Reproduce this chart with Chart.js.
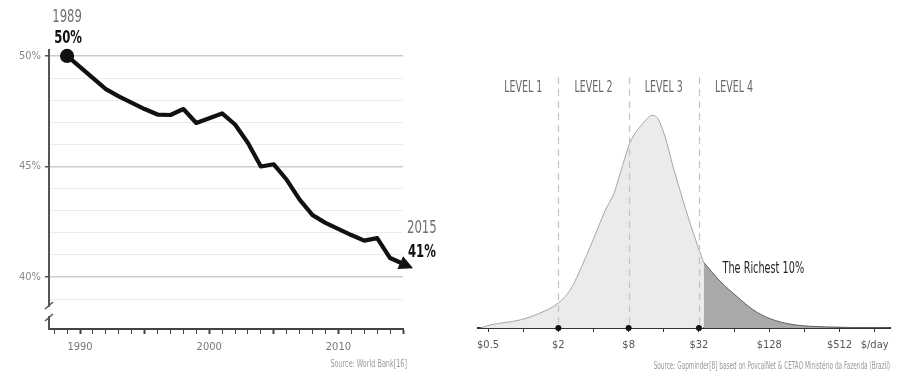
<!DOCTYPE html>
<html><head><meta charset="utf-8">
<script src="https://cdn.jsdelivr.net/npm/chart.js@4.4.1/dist/chart.umd.min.js"></script>
<style>
html,body{margin:0;padding:0;background:#fff;width:900px;height:390px;overflow:hidden}
#left{position:absolute;left:0;top:0;width:460px;height:390px}
#right{position:absolute;left:440px;top:0;width:460px;height:390px}
</style></head><body>
<div id="left"><canvas id="c1" width="460" height="390"></canvas></div>
<div id="right"><canvas id="c2" width="460" height="390"></canvas></div>
<script>
// ---- Left chart: income share of richest 10% (Brazil) ----
const years = [1989,1992,1993,1995,1996,1997,1998,1999,2001,2002,2003,2004,2005,2006,2007,2008,2009,2011,2012,2013,2014,2015];
const richestShare = [50.0,48.5,48.17,47.6,47.35,47.33,47.6,46.97,47.4,46.9,46.06,45.0,45.1,44.4,43.5,42.8,42.45,41.9,41.65,41.76,40.86,40.6];
const gridPercents = [39,40,41,42,43,44,45,46,47,48,49,50];
const majorPercents = [40,45,50];
const tickYears = [1988,1989,1990,1991,1992,1993,1994,1995,1996,1997,1998,1999,2000,2001,2002,2003,2004,2005,2006,2007,2008,2009,2010,2011,2012,2013,2014,2015];
const labelYears = [1990,2000,2010];
const startLabel = ['1989','50%'];
const endLabel = ['2015','41%'];
const leftSource = 'Source: World Bank[16]';

// ---- Right chart: income distribution ($/day, log scale) ----
const incomePerDay = [0.43,0.52,0.94,1.39,1.99,2.52,3.26,4.29,5.05,5.99,7.1,8.23,10.6,12.7,14.0,16.4,19.2,23.4,28.5,35,48.6,67.8,93.1,130,204.6,400,1073,1386];
const peopleDensity = [0,1.4,3.8,7.0,11.7,17.8,30.5,46,55.4,63.4,76.5,87.3,96.2,100,99,90,76,60,45,31,22,14.8,8.6,4.4,1.6,0.5,0.1,0];
const richestFrom = 35;
const levelBounds = [2,8,32];
const levelNames = ['LEVEL 1','LEVEL 2','LEVEL 3','LEVEL 4'];
const levelCenters = [1,4,16,64];
const incomeTicks = [0.5,1,2,4,8,16,32,64,128,256,512,1024];
const incomeTickLabels = {0.5:'$0.5',2:'$2',8:'$8',32:'$32',128:'$128',512:'$512',1024:'$/day'};
const richestLabel = 'The Richest 10%';
const rightSource = 'Source: Gapminder[8] based on PovcalNet & CETAO Ministério da Fazenda (Brazil)';

const FF = "'DejaVu Sans Condensed','Lato',sans-serif";

// draw horizontally condensed text (the original uses a narrow typeface)
function narrowText(ctx, txt, x, y, align, sx){
  ctx.save();
  ctx.translate(x, y); ctx.scale(sx, 1);
  ctx.textAlign = align;
  ctx.fillText(txt, 0, 0);
  ctx.restore();
}

const leftDecor = {
  id:'leftDecor',
  afterDatasetsDraw(chart){
    const ctx = chart.ctx;
    const pts = chart.getDatasetMeta(0).data;
    const a = pts[pts.length-2], b = pts[pts.length-1];
    let dx=b.x-a.x, dy=b.y-a.y; const L=Math.hypot(dx,dy); dx/=L; dy/=L;
    const nx=-dy, ny=dx;
    ctx.save();
    ctx.fillStyle='#111';
    ctx.beginPath();
    ctx.moveTo(b.x+dx*11, b.y+dy*11);
    ctx.lineTo(b.x-dx*3+nx*7, b.y-dy*3+ny*7);
    ctx.lineTo(b.x-dx*3-nx*7, b.y-dy*3-ny*7);
    ctx.closePath(); ctx.fill();
    ctx.restore();
  },
  afterDraw(chart){
    const ctx = chart.ctx, ca = chart.chartArea;
    const pts = chart.getDatasetMeta(0).data;
    const f = pts[0], l = pts[pts.length-1];
    ctx.save();
    ctx.textBaseline='middle';
    ctx.fillStyle='#6f6f6f'; ctx.font="18px "+FF;
    narrowText(ctx, startLabel[0], f.x, 17, 'center', 0.72);
    ctx.fillStyle='#111'; ctx.font="bold 18px "+FF;
    narrowText(ctx, startLabel[1], f.x+1, 38, 'center', 0.72);
    ctx.fillStyle='#6f6f6f'; ctx.font="18px "+FF;
    narrowText(ctx, endLabel[0], l.x+4, 228, 'left', 0.72);
    ctx.fillStyle='#111'; ctx.font="bold 18px "+FF;
    narrowText(ctx, endLabel[1], l.x+5, 252, 'left', 0.72);
    // axis break
    const ax = ca.left;
    ctx.fillStyle='#fff';
    ctx.fillRect(ax-3, 307, 6, 9);
    ctx.strokeStyle='#555'; ctx.lineWidth=1.5;
    ctx.beginPath();
    ctx.moveTo(ax-4, 309); ctx.lineTo(ax+4, 302);
    ctx.moveTo(ax-4, 321); ctx.lineTo(ax+4, 314);
    ctx.stroke();
    // source
    ctx.fillStyle='#9a9a9a'; ctx.font="10px "+FF;
    narrowText(ctx, leftSource, 407, 364, 'right', 0.72);
    ctx.restore();
  }
};

new Chart(document.getElementById('c1'), {
  type:'line',
  data:{ datasets:[{
    data: years.map((y,i)=>({x:y, y:richestShare[i]})),
    borderColor:'#111', borderWidth:4.2, tension:0, clip:false,
    pointRadius: c => c.dataIndex===0 ? 5 : 0,
    pointBackgroundColor:'#111', pointBorderColor:'#111', borderJoinStyle:'round'
  }]},
  options:{
    responsive:false, animation:false, events:[],
    layout:{ padding:{left:0,right:57,top:50,bottom:31} },
    plugins:{ legend:{display:false}, tooltip:{enabled:false} },
    scales:{
      x:{ type:'linear', min:1987.6, max:2015,
        afterBuildTicks: s => { s.ticks = tickYears.map(v=>({value:v})); },
        afterFit: s => { s.height = 30; },
        ticks:{ autoSkip:false, maxRotation:0, padding:7, color:'#777', font:{family:FF,size:11},
          callback: v => labelYears.includes(v) ? String(v) : '' },
        grid:{ drawOnChartArea:false, tickLength:5, tickColor:'#444', tickWidth: c => (c.tick && c.tick.value%5===0) ? 2 : 1 },
        border:{ color:'#444', width:2 }
      },
      y:{ min:37.65, max:50.27,
        afterBuildTicks: s => { s.ticks = gridPercents.map(v=>({value:v})); },
        afterFit: s => { s.width = 49; },
        ticks:{ autoSkip:false, padding:4, color:'#888', font:{family:FF,size:11},
          callback: v => majorPercents.includes(v) ? v+'%' : '' },
        grid:{ color: c => (c.tick && majorPercents.includes(c.tick.value)) ? '#cbcbcb' : '#ececec',
          lineWidth: c => (c.tick && majorPercents.includes(c.tick.value)) ? 1.5 : 1,
          tickLength:4, tickColor: c => (c.tick && majorPercents.includes(c.tick.value)) ? '#555' : 'rgba(0,0,0,0)' },
        border:{ color:'#555', width:2 }
      }
    }
  },
  plugins:[leftDecor]
});

const rightDecor = {
  id:'rightDecor',
  afterDatasetsDraw(chart){
    const ctx = chart.ctx, ca = chart.chartArea, xs = chart.scales.x;
    ctx.save();
    ctx.strokeStyle='#c4c4c4'; ctx.lineWidth=1.2; ctx.setLineDash([7,5]);
    levelBounds.forEach(v=>{
      const px = Math.round(xs.getPixelForValue(v))+0.5;
      ctx.beginPath(); ctx.moveTo(px, ca.top+2); ctx.lineTo(px, ca.bottom); ctx.stroke();
    });
    ctx.setLineDash([]);
    ctx.textBaseline='middle';
    ctx.fillStyle='#666'; ctx.font="15px "+FF;
    levelNames.forEach((n,i)=> narrowText(ctx, n, xs.getPixelForValue(levelCenters[i]), 88, 'center', 0.7));
    ctx.fillStyle='#222'; ctx.font="15px "+FF;
    narrowText(ctx, richestLabel, xs.getPixelForValue(richestFrom)+19, 269, 'left', 0.72);
    ctx.restore();
  },
  afterDraw(chart){
    const ctx = chart.ctx, ca = chart.chartArea, xs = chart.scales.x;
    ctx.save();
    ctx.fillStyle='#111';
    levelBounds.forEach(v=>{
      ctx.beginPath(); ctx.arc(xs.getPixelForValue(v), ca.bottom, 3, 0, Math.PI*2); ctx.fill();
    });
    ctx.textBaseline='middle'; ctx.fillStyle='#9a9a9a'; ctx.font="10px "+FF;
    narrowText(ctx, rightSource, 450, 366, 'right', 0.64);
    ctx.restore();
  }
};

const lightPts = [], darkPts = [];
incomePerDay.forEach((x,i)=>{
  if (x <= richestFrom) lightPts.push({x, y:peopleDensity[i]});
  if (x >= richestFrom) darkPts.push({x, y:peopleDensity[i]});
});

new Chart(document.getElementById('c2'), {
  type:'line',
  data:{ datasets:[
    { data: lightPts, fill:'origin', backgroundColor:'#ebebeb', borderColor:'#a5a5a5', borderWidth:1,
      pointRadius:0, cubicInterpolationMode:'monotone' },
    { data: darkPts, fill:'origin', backgroundColor:'#a9a9a9', borderColor:'#5f5f5f', borderWidth:1,
      pointRadius:0, cubicInterpolationMode:'monotone' }
  ]},
  options:{
    responsive:false, animation:false, events:[],
    layout:{ padding:{left:38,right:10,top:75,bottom:32} },
    plugins:{ legend:{display:false}, tooltip:{enabled:false} },
    scales:{
      x:{ type:'logarithmic', min:0.41, max:1386,
        afterBuildTicks: s => { s.ticks = incomeTicks.map(v=>({value:v})); },
        afterFit: s => { s.height = 30; },
        ticks:{ autoSkip:false, maxRotation:0, padding:7, color:'#555', font:{family:FF,size:11},
          callback: v => incomeTickLabels[v] || '' },
        grid:{ drawOnChartArea:false, tickLength:4, tickColor:'#333', tickWidth:1 },
        border:{ color:'#333', width:2 }
      },
      y:{ display:false, min:0, max:119 }
    }
  },
  plugins:[rightDecor]
});
</script>
</body></html>
